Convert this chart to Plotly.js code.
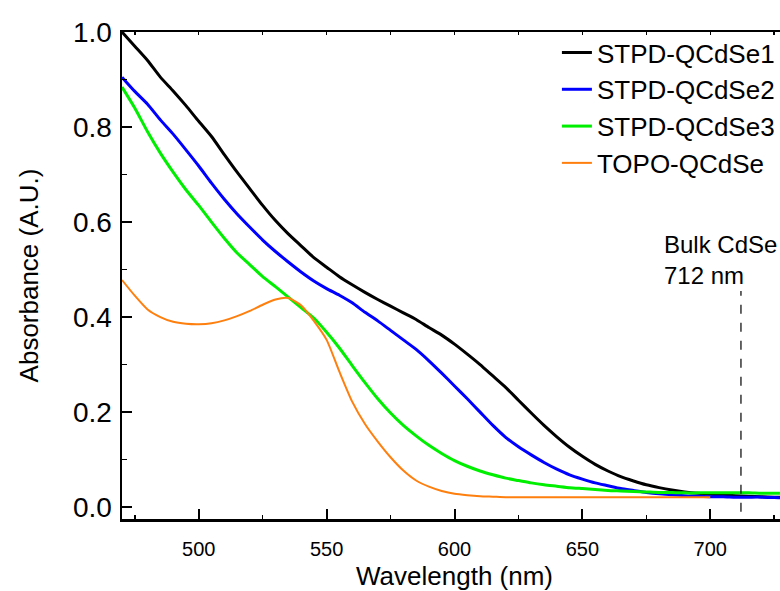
<!DOCTYPE html>
<html>
<head>
<meta charset="utf-8">
<script src="https://cdn.plot.ly/plotly-3.0.1.min.js"></script>
<style>
html,body{margin:0;padding:0;overflow:hidden;background:#fff;}
#chart{width:800px;height:591px;}
</style>
</head>
<body>
<div id="chart"></div>
<script>
// Wavelength grid (nm)
const wavelength = [470,475,480,485,490,495,500,505,510,515,520,525,530,535,540,545,550,555,560,565,570,575,580,585,590,595,600,605,610,615,620,625,630,635,640,645,650,655,660,665,670,675,680,685,690,695,700,705,710,715,720,725,730];

const stpd1 = [1.0,0.97,0.94,0.905,0.876,0.845,0.812,0.78,0.742,0.705,0.67,0.635,0.603,0.575,0.55,0.525,0.505,0.485,0.468,0.452,0.437,0.423,0.409,0.395,0.378,0.362,0.343,0.322,0.3,0.276,0.252,0.225,0.198,0.172,0.148,0.126,0.107,0.09,0.076,0.064,0.055,0.047,0.041,0.036,0.032,0.029,0.027,0.025,0.024,0.023,0.022,0.021,0.02];

const stpd2 = [0.905,0.875,0.848,0.815,0.785,0.752,0.718,0.682,0.648,0.617,0.589,0.562,0.538,0.516,0.495,0.476,0.46,0.446,0.43,0.41,0.392,0.372,0.352,0.332,0.308,0.282,0.255,0.228,0.2,0.172,0.147,0.127,0.11,0.094,0.08,0.068,0.059,0.051,0.045,0.039,0.035,0.031,0.028,0.026,0.024,0.023,0.022,0.022,0.021,0.021,0.021,0.02,0.02];

const stpd3 = [0.884,0.84,0.79,0.745,0.705,0.668,0.635,0.6,0.566,0.535,0.51,0.485,0.464,0.442,0.42,0.398,0.368,0.335,0.298,0.262,0.228,0.198,0.172,0.15,0.13,0.113,0.098,0.086,0.076,0.068,0.061,0.056,0.051,0.047,0.044,0.041,0.039,0.037,0.035,0.034,0.033,0.032,0.031,0.031,0.03,0.03,0.03,0.03,0.03,0.03,0.029,0.029,0.029];

const topoWavelength = [470,475,480,485,490,495,500,505,510,515,520,525,530,535,540,545,550,555,560,565,570,575,580,585,590,595,600,605,610,615,620,630,640,650,660,670,680,690,700];
const topo = [0.478,0.445,0.416,0.4,0.39,0.386,0.385,0.387,0.393,0.402,0.413,0.426,0.437,0.44,0.425,0.392,0.352,0.285,0.222,0.175,0.138,0.105,0.077,0.056,0.043,0.034,0.028,0.025,0.023,0.022,0.021,0.021,0.021,0.021,0.021,0.021,0.021,0.021,0.021];

const seriesNames = ['STPD-QCdSe1','STPD-QCdSe2','STPD-QCdSe3','TOPO-QCdSe'];
const seriesColors = ['#000000','#0000ff','#00ee00','#ff7f0e'];
const bulkGap = 712;
const bulkLabel = 'Bulk CdSe<br>712 nm';

const FONT = 'Liberation Sans, Arial, sans-serif';

const traces = [
  {x: wavelength, y: stpd1, name: seriesNames[0], line:{color:seriesColors[0], width:3}},
  {x: wavelength, y: stpd2, name: seriesNames[1], line:{color:seriesColors[1], width:3}},
  {x: wavelength, y: stpd3, name: seriesNames[2], line:{color:seriesColors[2], width:3}},
  {x: topoWavelength, y: topo, name: seriesNames[3], line:{color:seriesColors[3], width:2}}
].map((t,i) => Object.assign(t, {type:'scatter', mode:'lines', legendgroup:'g'+i, line:Object.assign(t.line,{shape:'spline', smoothing:0.6})}));

traces.push({x:[], y:[], xaxis:'x2', yaxis:'y', type:'scatter', mode:'lines', showlegend:false, hoverinfo:'skip'});

const layout = {
  width: 800, height: 591,
  margin: {l:122, r:13, t:32, b:72},
  paper_bgcolor:'#fff', plot_bgcolor:'#fff',
  font: {family: FONT, color:'#000'},
  showlegend: true,
  legend: {x:0.654, y:1.006, xanchor:'left', yanchor:'top', font:{size:26, family:FONT}, bgcolor:'rgba(0,0,0,0)', tracegroupgap:0},
  xaxis: {
    range:[470,730], tick0:500, dtick:50, ticks:'inside', ticklen:10, tickwidth:2, tickcolor:'#000',
    showline:true, linewidth:2.5, linecolor:'#000', mirror:true, showgrid:false, zeroline:false,
    minor:{dtick:25, tick0:475, ticks:'inside', ticklen:4, tickwidth:1.5, tickcolor:'#000', showgrid:false},
    tickfont:{size:20, family:FONT}, ticklabelstandoff:10,
    title:{text:'Wavelength (nm)', font:{size:26, family:FONT}, standoff:9}
  },
  xaxis2: {
    overlaying:'x', side:'top', range:[470,730], tick0:475, dtick:25, ticks:'inside', ticklen:3, tickwidth:1.5, tickcolor:'#000',
    showticklabels:false, showgrid:false, zeroline:false, showline:false
  },
  yaxis: {
    range:[-0.025,1.0], tick0:0, dtick:0.2, tickformat:'.1f', ticks:'inside', ticklen:10, tickwidth:2, tickcolor:'#000',
    showline:true, linewidth:2.5, linecolor:'#000', showgrid:false, zeroline:false,
    minor:{dtick:0.1, tick0:0, ticks:'inside', ticklen:5, tickwidth:1.5, tickcolor:'#000', showgrid:false},
    tickfont:{size:28, family:FONT}, ticklabelstandoff:2,
    title:{text:'Absorbance (A.U.)', font:{size:26, family:FONT}, standoff:27}
  },
  shapes: [
    {type:'line', xref:'x', yref:'y', x0:bulkGap, x1:bulkGap, y0:-0.01, y1:0.455, line:{color:'#000', width:1.2, dash:'dash'}}
  ],
  annotations: [
    {xref:'x', yref:'y', x:681, y:0.455, xanchor:'left', yanchor:'bottom', align:'left', showarrow:false,
     text:bulkLabel, font:{size:24, family:FONT, color:'#000'}}
  ]
};

Plotly.newPlot('chart', traces, layout, {displayModeBar:false, staticPlot:true});
</script>
</body>
</html>
